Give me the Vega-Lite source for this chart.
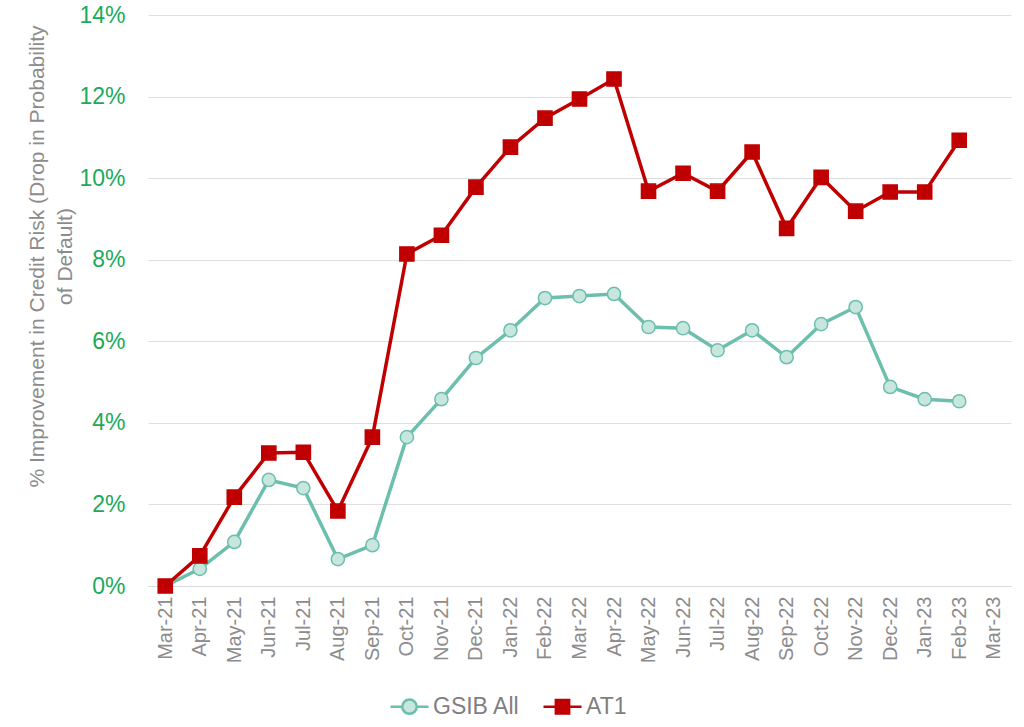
{
  "$schema": "https://vega.github.io/schema/vega-lite/v6.json",
  "width": 863,
  "height": 571,
  "autosize": {"type": "none"},
  "padding": {"left": 148, "top": 15, "right": 13, "bottom": 141},
  "background": "white",
  "config": {
    "font": "Liberation Sans",
    "view": {"stroke": null}
  },
  "data": {
    "values": [
      {"month": "Mar-21", "series": "GSIB All", "value": 0},
      {"month": "Apr-21", "series": "GSIB All", "value": 0.42},
      {"month": "May-21", "series": "GSIB All", "value": 1.08},
      {"month": "Jun-21", "series": "GSIB All", "value": 2.6},
      {"month": "Jul-21", "series": "GSIB All", "value": 2.4},
      {"month": "Aug-21", "series": "GSIB All", "value": 0.66},
      {"month": "Sep-21", "series": "GSIB All", "value": 1.0},
      {"month": "Oct-21", "series": "GSIB All", "value": 3.65},
      {"month": "Nov-21", "series": "GSIB All", "value": 4.58},
      {"month": "Dec-21", "series": "GSIB All", "value": 5.59},
      {"month": "Jan-22", "series": "GSIB All", "value": 6.27},
      {"month": "Feb-22", "series": "GSIB All", "value": 7.06},
      {"month": "Mar-22", "series": "GSIB All", "value": 7.11},
      {"month": "Apr-22", "series": "GSIB All", "value": 7.16},
      {"month": "May-22", "series": "GSIB All", "value": 6.35},
      {"month": "Jun-22", "series": "GSIB All", "value": 6.32},
      {"month": "Jul-22", "series": "GSIB All", "value": 5.78},
      {"month": "Aug-22", "series": "GSIB All", "value": 6.27},
      {"month": "Sep-22", "series": "GSIB All", "value": 5.61},
      {"month": "Oct-22", "series": "GSIB All", "value": 6.42},
      {"month": "Nov-22", "series": "GSIB All", "value": 6.84},
      {"month": "Dec-22", "series": "GSIB All", "value": 4.88},
      {"month": "Jan-23", "series": "GSIB All", "value": 4.58},
      {"month": "Feb-23", "series": "GSIB All", "value": 4.53},
      {"month": "Mar-21", "series": "AT1", "value": 0},
      {"month": "Apr-21", "series": "AT1", "value": 0.74},
      {"month": "May-21", "series": "AT1", "value": 2.18},
      {"month": "Jun-21", "series": "AT1", "value": 3.26},
      {"month": "Jul-21", "series": "AT1", "value": 3.28},
      {"month": "Aug-21", "series": "AT1", "value": 1.84},
      {"month": "Sep-21", "series": "AT1", "value": 3.65},
      {"month": "Oct-21", "series": "AT1", "value": 8.14},
      {"month": "Nov-21", "series": "AT1", "value": 8.6},
      {"month": "Dec-21", "series": "AT1", "value": 9.78},
      {"month": "Jan-22", "series": "AT1", "value": 10.76},
      {"month": "Feb-22", "series": "AT1", "value": 11.47},
      {"month": "Mar-22", "series": "AT1", "value": 11.94},
      {"month": "Apr-22", "series": "AT1", "value": 12.43},
      {"month": "May-22", "series": "AT1", "value": 9.68},
      {"month": "Jun-22", "series": "AT1", "value": 10.12},
      {"month": "Jul-22", "series": "AT1", "value": 9.68},
      {"month": "Aug-22", "series": "AT1", "value": 10.64},
      {"month": "Sep-22", "series": "AT1", "value": 8.77},
      {"month": "Oct-22", "series": "AT1", "value": 10.02},
      {"month": "Nov-22", "series": "AT1", "value": 9.19},
      {"month": "Dec-22", "series": "AT1", "value": 9.66},
      {"month": "Jan-23", "series": "AT1", "value": 9.66},
      {"month": "Feb-23", "series": "AT1", "value": 10.93}
    ]
  },
  "encoding": {
    "x": {
      "field": "month",
      "type": "ordinal",
      "sort": null,
      "scale": {
        "type": "point",
        "padding": 0.5,
        "domain": ["Mar-21","Apr-21","May-21","Jun-21","Jul-21","Aug-21","Sep-21","Oct-21","Nov-21","Dec-21","Jan-22","Feb-22","Mar-22","Apr-22","May-22","Jun-22","Jul-22","Aug-22","Sep-22","Oct-22","Nov-22","Dec-22","Jan-23","Feb-23","Mar-23"]
      },
      "axis": {
        "title": null,
        "labelAngle": -90,
        "labelFontSize": 20,
        "labelColor": "#8c8c8c",
        "labelPadding": 10,
        "ticks": false,
        "domain": true,
        "domainColor": "#d9d9d9",
        "grid": false
      }
    },
    "y": {
      "field": "value",
      "type": "quantitative",
      "scale": {"domain": [0, 14], "nice": false},
      "axis": {
        "values": [0, 2, 4, 6, 8, 10, 12, 14],
        "labelExpr": "datum.value + '%'",
        "labelFontSize": 23,
        "labelColor": "#1aaa5a",
        "labelPadding": 23,
        "ticks": false,
        "domain": false,
        "gridColor": "#dedede",
        "gridWidth": 1,
        "title": ["% Improvement in Credit Risk (Drop in Probability", "of Default)"],
        "titleFontSize": 21,
        "titleFontWeight": "normal",
        "titleColor": "#8c8c8c",
        "titleLineHeight": 28,
        "titleX": -111,
        "titleY": 241,
        "titleAlign": "center",
        "titleBaseline": "middle",
        "titleAngle": -90
      }
    }
  },
  "layer": [
    {
      "mark": {"type": "line", "strokeWidth": 3.5},
      "encoding": {
        "color": {
          "field": "series",
          "type": "nominal",
          "scale": {"domain": ["GSIB All", "AT1"], "range": ["#6cbfad", "#c00000"]},
          "legend": null
        }
      }
    },
    {
      "mark": {"type": "point", "filled": false, "opacity": 1, "strokeWidth": 1.5},
      "encoding": {
        "shape": {
          "field": "series",
          "type": "nominal",
          "scale": {"domain": ["GSIB All", "AT1"], "range": ["circle", "square"]},
          "legend": null
        },
        "fill": {
          "field": "series",
          "type": "nominal",
          "scale": {"domain": ["GSIB All", "AT1"], "range": ["#c6e6de", "#c00000"]},
          "legend": null
        },
        "stroke": {
          "field": "series",
          "type": "nominal",
          "scale": {"domain": ["GSIB All", "AT1"], "range": ["#6cbfad", "#c00000"]},
          "legend": null
        },
        "size": {
          "field": "series",
          "type": "nominal",
          "scale": {"domain": ["GSIB All", "AT1"], "range": [175, 200]},
          "legend": null
        }
      }
    },
    {
      "mark": {"type": "point", "filled": false, "opacity": 0, "strokeWidth": 2.5},
      "encoding": {
        "shape": {
          "field": "series",
          "type": "nominal",
          "scale": {"domain": ["GSIB All", "AT1"], "range": ["M-1,0L-0.38,0M0.38,0L1,0M-0.38,0A0.38,0.38,0,1,0,0.38,0A0.38,0.38,0,1,0,-0.38,0Z", "M-1,0L1,0M-0.35,-0.35L0.35,-0.35L0.35,0.35L-0.35,0.35Z"]},
          "legend": {
            "title": null,
            "orient": "none",
            "direction": "horizontal",
            "legendX": 241,
            "legendY": 671,
            "symbolSize": 1444,
            "symbolOpacity": 1,
            "symbolStrokeWidth": 2.5,
            "labelFontSize": 23,
            "labelColor": "#7f7f7f",
            "labelOffset": 3,
            "columnPadding": 18
          }
        },
        "fill": {
          "field": "series",
          "type": "nominal",
          "scale": {"domain": ["GSIB All", "AT1"], "range": ["#c6e6de", "#c00000"]}
        },
        "stroke": {
          "field": "series",
          "type": "nominal",
          "scale": {"domain": ["GSIB All", "AT1"], "range": ["#6cbfad", "#c00000"]}
        }
      }
    }
  ],
  "resolve": {
    "scale": {"shape": "independent", "fill": "independent", "stroke": "independent", "size": "independent"},
    "legend": {"shape": "independent", "fill": "independent", "stroke": "independent"}
  }
}
